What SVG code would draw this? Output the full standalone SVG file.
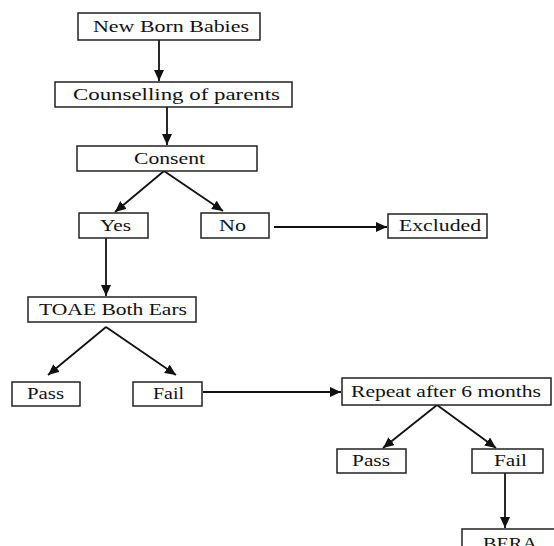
<svg xmlns="http://www.w3.org/2000/svg" width="554" height="546" viewBox="0 0 554 546">
<style>
.box{fill:#fff;stroke:#222;stroke-width:1.5}
.t{font-family:"Liberation Serif","Times New Roman",serif;font-size:16px;fill:#111;text-anchor:middle}
.c{stroke:#111;stroke-width:1.8;fill:none;marker-end:url(#ah)}
</style>
<defs>
<marker id="ah" markerUnits="userSpaceOnUse" markerWidth="12" markerHeight="10" refX="11" refY="5" orient="auto">
<path d="M0,0 L11,5 L0,10 Z" fill="#111"/>
</marker>
</defs>
<rect width="554" height="546" fill="#fff"/>
<g id="connectors">
<line class="c" x1="159" y1="40" x2="159" y2="81"/>
<line class="c" x1="167" y1="107" x2="167" y2="145"/>
<line class="c" x1="164" y1="171" x2="115" y2="212"/>
<line class="c" x1="164" y1="171" x2="223" y2="211"/>
<line class="c" x1="274" y1="227" x2="387" y2="227"/>
<line class="c" x1="106" y1="238" x2="106" y2="296"/>
<line class="c" x1="106" y1="327" x2="48" y2="375"/>
<line class="c" x1="106" y1="327" x2="176" y2="375"/>
<line class="c" x1="203" y1="392" x2="341" y2="392"/>
<line class="c" x1="437" y1="405" x2="383" y2="448"/>
<line class="c" x1="437" y1="405" x2="496" y2="448"/>
<line class="c" x1="505" y1="473" x2="505" y2="528"/>
</g>
<g id="newborn"><rect class="box" x="78" y="13" width="182" height="27"/><text class="t" x="171" y="32" textLength="156" lengthAdjust="spacingAndGlyphs">New Born Babies</text></g>
<g id="counselling"><rect class="box" x="55" y="82" width="237" height="25"/><text class="t" x="176.5" y="100" textLength="207" lengthAdjust="spacingAndGlyphs">Counselling of parents</text></g>
<g id="consent"><rect class="box" x="77" y="146" width="180" height="25"/><text class="t" x="169.5" y="164" textLength="71" lengthAdjust="spacingAndGlyphs">Consent</text></g>
<g id="yes"><rect class="box" x="79" y="213" width="69" height="25"/><text class="t" x="115.5" y="231" textLength="31" lengthAdjust="spacingAndGlyphs">Yes</text></g>
<g id="no"><rect class="box" x="201" y="213" width="68" height="25"/><text class="t" x="232.5" y="231" textLength="27" lengthAdjust="spacingAndGlyphs">No</text></g>
<g id="excluded"><rect class="box" x="388" y="214" width="99" height="24"/><text class="t" x="440" y="231" textLength="82" lengthAdjust="spacingAndGlyphs">Excluded</text></g>
<g id="toae"><rect class="box" x="28" y="297" width="168" height="25"/><text class="t" x="113" y="315" textLength="148" lengthAdjust="spacingAndGlyphs">TOAE Both Ears</text></g>
<g id="pass1"><rect class="box" x="12" y="382" width="68" height="24"/><text class="t" x="45.5" y="399" textLength="37" lengthAdjust="spacingAndGlyphs">Pass</text></g>
<g id="fail1"><rect class="box" x="133" y="382" width="69" height="24"/><text class="t" x="168.5" y="399" textLength="31" lengthAdjust="spacingAndGlyphs">Fail</text></g>
<g id="repeat"><rect class="box" x="342" y="378" width="209" height="27"/><text class="t" x="446" y="397" textLength="190" lengthAdjust="spacingAndGlyphs">Repeat after 6 months</text></g>
<g id="pass2"><rect class="box" x="337" y="449" width="69" height="24"/><text class="t" x="371" y="466" textLength="38" lengthAdjust="spacingAndGlyphs">Pass</text></g>
<g id="fail2"><rect class="box" x="472" y="449" width="71" height="24"/><text class="t" x="510.5" y="466" textLength="33" lengthAdjust="spacingAndGlyphs">Fail</text></g>
<g id="bera"><rect class="box" x="462" y="529" width="100" height="30"/><text class="t" x="510" y="549" textLength="54" lengthAdjust="spacingAndGlyphs">BERA</text></g>
</svg>
